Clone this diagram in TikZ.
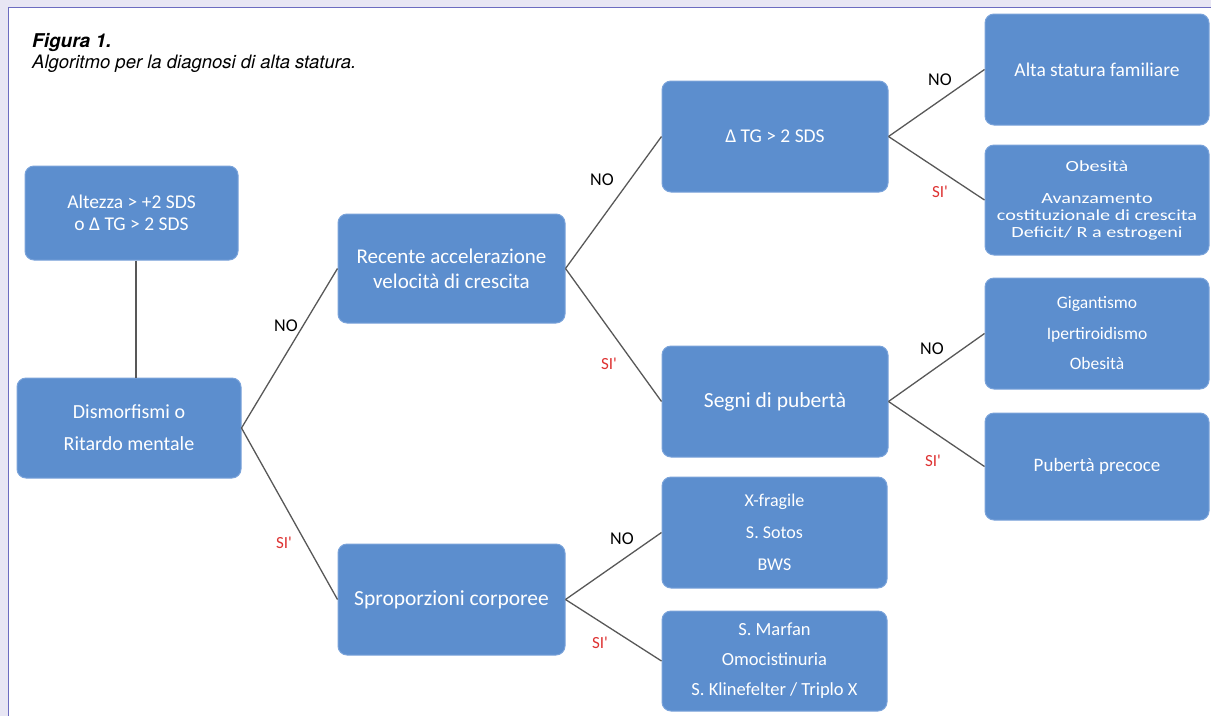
\documentclass[tikz,border=0pt]{standalone}
\usepackage{fontspec}
\newfontfamily\capfont{TeX Gyre Heros}
\newfontfamily\boxfont{Carlito}
\newfontfamily\boxfontw[FakeStretch=1.3]{Carlito}
\definecolor{boxblue}{RGB}{92,142,206}
\definecolor{boxedge}{RGB}{122,163,218}
\definecolor{linegray}{RGB}{88,88,88}
\definecolor{sired}{RGB}{222,50,50}
\definecolor{bandcol}{RGB}{232,230,244}
\definecolor{framecol}{RGB}{108,108,192}
\begin{document}
\begin{tikzpicture}[x=1pt,y=-1pt,
  box/.style={draw=boxedge, fill=boxblue, rounded corners=9pt, text=white,
    align=center, inner sep=0pt, line width=1pt},
  conn/.style={draw=linegray, line width=1.3pt},
  nolab/.style={font=\boxfont\fontsize{18}{18}\selectfont, text=black, inner sep=0pt},
  silab/.style={font=\boxfont\fontsize{17}{17}\selectfont, text=sired, inner sep=0pt}]
\useasboundingbox (0,0) rectangle (1211,716);
\fill[bandcol] (0,0) rectangle (1211,716);
\fill[white] (8.5,7.5) rectangle (1211,716);
\draw[framecol, line width=1.8pt] (8.5,716) -- (8.5,7.5) -- (1211,7.5);

% caption
\node[anchor=base west, inner sep=0pt, font=\capfont\bfseries\itshape\fontsize{19}{19}\selectfont] (cap1) at (32,47) {Figura 1.};
\node[anchor=base west, inner sep=0pt, font=\capfont\itshape\fontsize{18.5}{18.5}\selectfont] (cap2) at (32,68) {Algoritmo per la diagnosi di alta statura.};

% boxes
\node[box, minimum width=213pt, minimum height=94pt, font=\boxfont\fontsize{19.5}{22}\selectfont] (A) at (131.5,213) {Altezza > +2 SDS\\o Δ TG > 2 SDS};
\node[box, minimum width=224pt, minimum height=100pt, font=\boxfont\fontsize{20}{32}\selectfont] (B) at (129,428) {Dismorfismi o\\Ritardo mentale};
\node[box, minimum width=227pt, minimum height=109pt, font=\boxfont\fontsize{21}{25}\selectfont] (C) at (451.5,268.5) {Recente accelerazione\\velocità di crescita};
\node[box, minimum width=227pt, minimum height=111pt, font=\boxfont\fontsize{21.5}{25}\selectfont] (J) at (451.5,599.5) {Sproporzioni corporee};
\node[box, minimum width=226pt, minimum height=111pt, font=\boxfont\fontsize{19.5}{25}\selectfont] (D) at (775,136.5) {Δ TG > 2 SDS};
\node[box, minimum width=226pt, minimum height=111pt, font=\boxfont\fontsize{21.5}{25}\selectfont] (I) at (775,401.5) {Segni di pubertà};
\node[box, minimum width=225pt, minimum height=111pt, font=\boxfont\fontsize{18}{32}\selectfont] (K) at (774.5,532.5) {X-fragile\\S. Sotos\\BWS};
\node[box, minimum width=225pt, minimum height=100pt, font=\boxfont\fontsize{18.5}{30}\selectfont] (L) at (774.5,661) {S. Marfan\\Omocistinuria\\S. Klinefelter / Triplo X};
\node[box, minimum width=224pt, minimum height=111pt, font=\boxfont\fontsize{19.5}{25}\selectfont] (E) at (1097,69.5) {Alta statura familiare};
\node[box, minimum width=224pt, minimum height=110pt, font=\boxfontw\fontsize{15.5}{17}\selectfont] (F) at (1097,200) {Obesità\\[15pt]Avanzamento\\costituzionale di crescita\\Deficit/ R a estrogeni};
\node[box, minimum width=224pt, minimum height=111pt, font=\boxfont\fontsize{17.5}{30.5}\selectfont] (G) at (1097,333.5) {Gigantismo\\Ipertiroidismo\\Obesità};
\node[box, minimum width=224pt, minimum height=107pt, font=\boxfont\fontsize{19}{25}\selectfont] (H) at (1097,466.5) {Pubertà precoce};

% connectors
\draw[conn] (A.south -| 136,0) -- (B.north -| 136,0);
\draw[conn] (B.east) -- (C.west);
\draw[conn] (B.east) -- (J.west);
\draw[conn] (C.east) -- (D.west);
\draw[conn] (C.east) -- (I.west);
\draw[conn] (D.east) -- (E.west);
\draw[conn] (D.east) -- (F.west);
\draw[conn] (I.east) -- (G.west);
\draw[conn] (I.east) -- (H.west);
\draw[conn] (J.east) -- (K.west);
\draw[conn] (J.east) -- (L.west);

% labels
\node[nolab] (n1) at (286,326) {NO};
\node[silab] (s1) at (284,543) {SI'};
\node[nolab] (n2) at (602,180) {NO};
\node[silab] (s2) at (609,364) {SI'};
\node[nolab] (n3) at (940,80) {NO};
\node[silab] (s3) at (940,192) {SI'};
\node[nolab] (n4) at (932,349) {NO};
\node[silab] (s4) at (933,461) {SI'};
\node[nolab] (n5) at (622,539) {NO};
\node[silab] (s5) at (600,643) {SI'};
\end{tikzpicture}
\end{document}
